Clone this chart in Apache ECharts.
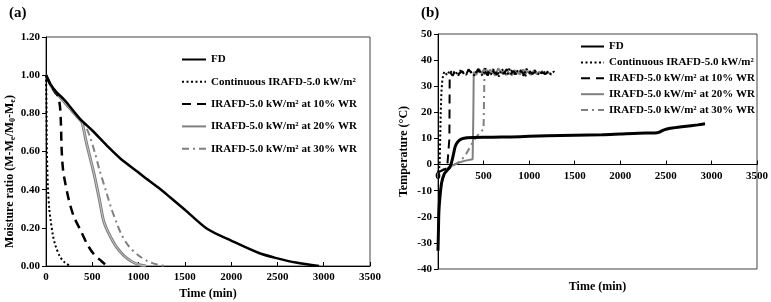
<!DOCTYPE html>
<html>
<head>
<meta charset="utf-8">
<script src="https://cdn.jsdelivr.net/npm/echarts@6/dist/echarts.min.js"></script>
<style>
  html, body { margin: 0; padding: 0; background: #fff; }
  #myChart { width: 771px; height: 302px; }
</style>
</head>
<body>
<div id="myChart"></div>
<script>
let myChart = echarts.init(document.getElementById('myChart'));

const names = [
  'FD',
  'Continuous IRAFD-5.0 kW/m²',
  'IRAFD-5.0 kW/m² at 10% WR',
  'IRAFD-5.0 kW/m² at 20% WR',
  'IRAFD-5.0 kW/m² at 30% WR',
];

// (a) moisture ratio, [time (min), MR]
const fdMR = [[0, 1.0], [50, 0.95], [115, 0.91], [200, 0.87], [370, 0.77], [500, 0.71], [660, 0.63],
  [800, 0.565], [1000, 0.49], [1050, 0.47], [1230, 0.405], [1340, 0.36], [1500, 0.295], [1740, 0.195],
  [2000, 0.133], [2300, 0.068], [2500, 0.04], [2700, 0.018], [2950, 0]];
const contMR = [[0, 1.0], [5, 0.85], [10, 0.6], [20, 0.42], [35, 0.3], [50, 0.24], [75, 0.16],
  [100, 0.11], [150, 0.05], [200, 0.02], [260, 0]];
const wr10MR = [[0, 1.0], [50, 0.95], [100, 0.91], [130, 0.89], [150, 0.84], [160, 0.76], [170, 0.6],
  [185, 0.5], [210, 0.43], [250, 0.34], [300, 0.26], [370, 0.19], [450, 0.11], [520, 0.06],
  [600, 0.025], [660, 0]];
const wr20MR = [[0, 1.0], [50, 0.95], [100, 0.91], [150, 0.885], [250, 0.83], [350, 0.775], [390, 0.75],
  [430, 0.66], [470, 0.58], [520, 0.48], [580, 0.34], [620, 0.24], [650, 0.2], [700, 0.15],
  [760, 0.1], [840, 0.055], [920, 0.025], [1000, 0.008], [1080, 0]];
const wr30MR = [[0, 1.0], [50, 0.95], [100, 0.91], [150, 0.885], [250, 0.83], [350, 0.78], [400, 0.75],
  [440, 0.72], [480, 0.67], [530, 0.59], [580, 0.5], [650, 0.39], [700, 0.31], [760, 0.23],
  [820, 0.16], [900, 0.1], [1000, 0.055], [1100, 0.025], [1200, 0.008], [1290, 0]];

// (b) temperature, [time (min), °C]
const fdT = [[0, -33], [5, -25], [10, -18], [20, -13], [40, -7], [70, -3.5], [100, -2.2], [130, -1],
  [150, 1], [170, 4], [190, 7], [220, 8.8], [260, 9.8], [320, 10.3], [400, 10.4], [600, 10.5],
  [800, 10.6], [1000, 10.8], [1200, 11], [1500, 11.2], [1800, 11.4], [2000, 11.7], [2200, 12],
  [2380, 12.1], [2420, 12.3], [2480, 13.3], [2550, 13.9], [2700, 14.6], [2850, 15.2], [2930, 15.6]];
const contT = [[0, -3], [10, -2], [18, 0], [24, 10], [30, 20], [38, 28], [48, 32.5], [60, 34.8], [73, 35.6],
  [100, 34.2], [130, 36.1], [160, 34.8], [190, 35.9], [220, 33.9], [250, 36.3], [280, 35.1], [310, 34.4],
  [340, 36.5], [370, 35.0], [400, 34.1], [430, 36.2], [460, 35.4], [490, 34.0], [520, 36.8], [550, 35.2],
  [580, 34.5], [610, 36.4], [640, 35.0], [670, 33.8], [700, 36.6], [730, 35.3], [760, 34.2], [790, 36.9],
  [820, 35.1], [850, 34.6], [880, 36.3], [910, 35.5], [940, 34.0], [970, 36.7], [1000, 35.2], [1030, 34.4],
  [1060, 36.1], [1090, 35.0], [1120, 34.3], [1150, 35.9], [1180, 34.8], [1210, 35.7], [1240, 34.5],
  [1270, 35.6], [1290, 35.0]];
const wr10T = [[0, -3], [30, -2.5], [60, -2], [100, -1.5], [120, -1], [125, 10], [128, 33], [135, 35.2],
  [160, 34.0], [195, 36.2], [230, 34.7], [265, 35.8], [300, 33.8], [335, 36.4], [370, 35.0], [405, 34.3],
  [440, 36.6], [475, 34.9], [510, 35.9], [545, 34.1], [580, 36.7], [615, 35.3], [650, 34.4], [685, 36.2],
  [720, 34.8], [755, 36.5], [790, 34.2], [825, 35.8], [860, 34.6], [895, 36.4], [930, 35.1], [965, 34.0],
  [1000, 36.0], [1035, 34.7], [1070, 35.6], [1105, 34.3], [1140, 35.4], [1175, 34.6], [1200, 35.1]];
const wr20T = [[0, -3], [50, -2], [100, -1.5], [150, -0.5], [200, 0.3], [250, 1], [300, 1.5], [380, 2],
  [388, 20], [392, 35.5], [420, 34.4], [450, 36.6], [480, 35.0], [510, 36.9], [540, 34.5], [570, 36.3],
  [600, 35.2], [630, 34.1], [660, 36.8], [690, 35.4], [720, 34.6], [750, 36.5], [780, 35.0], [810, 34.2],
  [840, 36.1], [870, 35.3], [900, 34.5], [930, 36.4], [960, 34.9], [990, 35.8], [1020, 34.3], [1050, 35.9],
  [1080, 34.7], [1110, 35.5], [1150, 34.9]];
const wr30T = [[0, -3], [50, -2], [100, -1.5], [150, -0.5], [200, 0.3], [250, 1.5], [300, 3.5], [340, 6],
  [380, 8.5], [420, 10.5], [460, 12.2], [500, 13.6], [505, 25], [510, 35], [540, 36.2], [570, 34.6],
  [600, 36.7], [630, 35.1], [660, 34.2], [690, 36.4], [720, 35.5], [750, 34.3], [780, 36.8], [810, 35.0],
  [840, 34.7], [870, 36.2], [900, 35.4], [930, 34.1], [960, 36.3], [990, 35.2], [1020, 34.6], [1050, 36.0],
  [1080, 35.0], [1110, 34.4], [1140, 35.8], [1170, 34.9], [1200, 35.5], [1230, 34.7], [1250, 35.2]];

const font = 'Liberation Serif';
const txt = { fontFamily: font, fontWeight: 'bold', color: '#000', fontSize: 11 };

const styles = [
  { color: '#000', width: 2.5, type: 'solid' },
  { color: '#000', width: 2, type: [2, 2.5] },
  { color: '#000', width: 2.5, type: [9, 6] },
  { color: '#808080', width: 3, type: 'solid' },
  { color: '#808080', width: 2, type: [7, 4, 2, 4] },
];

function makeSeries(data, idx, panel, smooth, width) {
  const s = styles[idx];
  return {
    name: names[idx],
    type: 'line',
    xAxisIndex: panel,
    yAxisIndex: panel,
    data: data,
    showSymbol: false,
    symbol: 'none',
    smooth: smooth,
    color: s.color,
    lineStyle: { color: s.color, width: width || s.width, type: s.type },
    z: 5 - idx,
  };
}

// light core on top of the grey 20% WR line (double-line look)
function coreLine(data, panel, smooth) {
  return {
    name: 'core', type: 'line', xAxisIndex: panel, yAxisIndex: panel, data: data,
    showSymbol: false, symbol: 'none', smooth: smooth, silent: true,
    lineStyle: { color: '#d8d8d8', width: 0.8 }, z: 3,
  };
}

const xAxisBase = {
  type: 'value', min: 0, max: 3500, interval: 500,
  splitLine: { show: false },
  axisLine: { onZero: false, lineStyle: { color: '#000', width: 1 } },
  axisTick: { inside: true, length: 4, lineStyle: { color: '#000' } },
  axisLabel: Object.assign({ margin: 6, formatter: (v) => String(v) }, txt),
  name: 'Time (min)', nameLocation: 'middle',
  nameTextStyle: Object.assign({}, txt, { fontSize: 12 }),
};

const hideDot = { color: 'transparent', borderColor: 'transparent', borderWidth: 0, opacity: 0 };

// panel (b): the time axis sits on the 0 °C line
const gridB = { left: 438, top: 34, width: 319, height: 235 };
const yMinB = -40, yMaxB = 50;
const zeroShiftB = -gridB.height * (0 - yMinB) / (yMaxB - yMinB);

let myChartOption = {
  animation: false,
  backgroundColor: '#fff',
  title: [
    { text: '(a)', left: 4, top: 1, textStyle: Object.assign({}, txt, { fontSize: 15 }) },
    { text: '(b)', left: 416, top: 1, textStyle: Object.assign({}, txt, { fontSize: 15 }) },
  ],
  grid: [
    { left: 46, top: 37, width: 324, height: 229, show: true, borderColor: '#444', borderWidth: 1,
      containLabel: false, outerBoundsMode: 'none' },
    Object.assign({ show: true, borderColor: '#444', borderWidth: 1,
      containLabel: false, outerBoundsMode: 'none' }, gridB),
  ],
  legend: [
    {
      data: names, orient: 'vertical', left: 176, top: 49, itemWidth: 24, itemHeight: 12, itemGap: 11.3,
      textStyle: txt, itemStyle: hideDot,
    },
    {
      data: names, orient: 'vertical', left: 575, top: 36, itemWidth: 23, itemHeight: 12, itemGap: 4.9,
      textStyle: txt, itemStyle: hideDot,
    },
  ],
  xAxis: [
    Object.assign({}, xAxisBase, { gridIndex: 0, nameGap: 22 }),
    Object.assign({}, xAxisBase, { gridIndex: 1, nameGap: 116, offset: zeroShiftB }),
  ],
  yAxis: [
    {
      gridIndex: 0, type: 'value', min: 0, max: 1.2, interval: 0.2,
      splitLine: { show: false },
      axisLine: { show: true, lineStyle: { color: '#000' } },
      axisTick: { show: true, length: 4, lineStyle: { color: '#000' } },
      axisLabel: Object.assign({ margin: 6, formatter: (v) => v.toFixed(2) }, txt),
      name: 'Moisture ratio (M-M{sub|e}/M{sub|0}-M{sub|e})',
      nameLocation: 'middle', nameGap: 28,
      nameTextStyle: Object.assign({}, txt, {
        fontSize: 12, padding: [0, 40, 0, 0],
        rich: { sub: { fontFamily: font, fontWeight: 'bold', fontSize: 8, verticalAlign: 'bottom', padding: [6, 0, 0, 0] } },
      }),
    },
    {
      gridIndex: 1, type: 'value', min: yMinB, max: yMaxB, interval: 10,
      splitLine: { show: false },
      axisLine: { show: true, onZero: false, lineStyle: { color: '#000' } },
      axisTick: { show: true, length: 4, lineStyle: { color: '#000' } },
      axisLabel: Object.assign({ margin: 6 }, txt),
      name: 'Temperature (°C)', nameLocation: 'middle', nameGap: 28,
      nameTextStyle: Object.assign({}, txt, { fontSize: 12 }),
    },
  ],
  series: [
    makeSeries(fdMR, 0, 0, 0.3),
    makeSeries(contMR, 1, 0, 0.3),
    makeSeries(wr10MR, 2, 0, 0.3),
    makeSeries(wr20MR, 3, 0, 0.3),
    coreLine(wr20MR, 0, 0.3),
    makeSeries(wr30MR, 4, 0, 0.3),
    makeSeries(fdT, 0, 1, 0.3, 3),
    makeSeries(contT, 1, 1, false),
    makeSeries(wr10T, 2, 1, false, 2),
    makeSeries(wr20T, 3, 1, false, 2),
    makeSeries(wr30T, 4, 1, false),
  ],
};

myChart.setOption(myChartOption);
</script>
</body>
</html>
